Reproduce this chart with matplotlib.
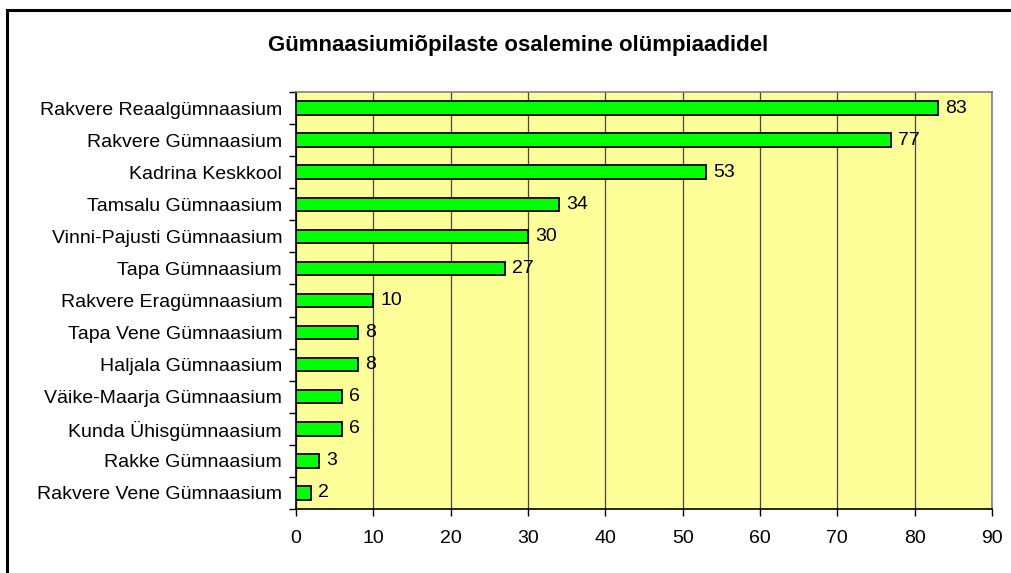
import matplotlib
matplotlib.use("Agg")
import matplotlib.pyplot as plt
from matplotlib.lines import Line2D

plt.rcParams['font.family'] = ['Liberation Sans', 'DejaVu Sans']

schools = ["Rakvere Reaalgümnaasium", "Rakvere Gümnaasium", "Kadrina Keskkool",
           "Tamsalu Gümnaasium", "Vinni-Pajusti Gümnaasium", "Tapa Gümnaasium",
           "Rakvere Eragümnaasium", "Tapa Vene Gümnaasium", "Haljala Gümnaasium",
           "Väike-Maarja Gümnaasium", "Kunda Ühisgümnaasium", "Rakke Gümnaasium",
           "Rakvere Vene Gümnaasium"]
participants = [83, 77, 53, 34, 30, 27, 10, 8, 8, 6, 6, 3, 2]
xticks = list(range(0, 100, 10))
title = "Gümnaasiumiõpilaste osalemine olümpiaadidel"

fig = plt.figure(figsize=(10.11, 5.73), dpi=100)
ax = fig.add_axes([296/1011, 1 - 509/573, (992 - 296)/1011, (509 - 92)/573])
ax.set_facecolor("#FFFF99")

pos = list(range(len(schools)))
ax.barh(pos, participants, height=0.42, color="#00FF00", edgecolor="black",
        linewidth=1.3, zorder=3)
for p, v in zip(pos, participants):
    ax.text(v + 0.9, p, str(v), va="center", ha="left", fontsize=14, zorder=4)

ax.set_ylim(len(schools) - 0.5, -0.5)
ax.set_yticks(pos)
ax.set_yticklabels(schools, fontsize=14)
ax.set_xlim(0, 90)
ax.set_xticks(xticks)
ax.set_xticklabels([str(t) for t in xticks], fontsize=14)
ax.xaxis.grid(True, color="#444444", linewidth=0.9, zorder=1)
ax.set_axisbelow(True)

# y ticks at category boundaries like Excel
ax.set_yticks([p + 0.5 for p in [-1] + pos], minor=True)
ax.tick_params(axis="y", which="major", length=0, pad=10)
ax.tick_params(axis="y", which="minor", length=5, width=1)
ax.tick_params(axis="x", length=5, width=1, pad=10)

for s in ["left", "bottom"]:
    ax.spines[s].set_color("black")
    ax.spines[s].set_linewidth(1.2)
for s in ["top", "right"]:
    ax.spines[s].set_color("#808080")
    ax.spines[s].set_linewidth(1.2)

fig.text(518/1011, 1 - 46/573, title,
         ha="center", va="center", fontsize=16, fontweight="bold")

# chart area border (top and left only visible)
fig.add_artist(Line2D([7/1011, 1], [1 - 10/573, 1 - 10/573], color="black", linewidth=2.2))
fig.add_artist(Line2D([7/1011, 7/1011], [0, 1 - 10/573], color="black", linewidth=2.2))

fig.savefig("out.png", dpi=100, facecolor="white")
